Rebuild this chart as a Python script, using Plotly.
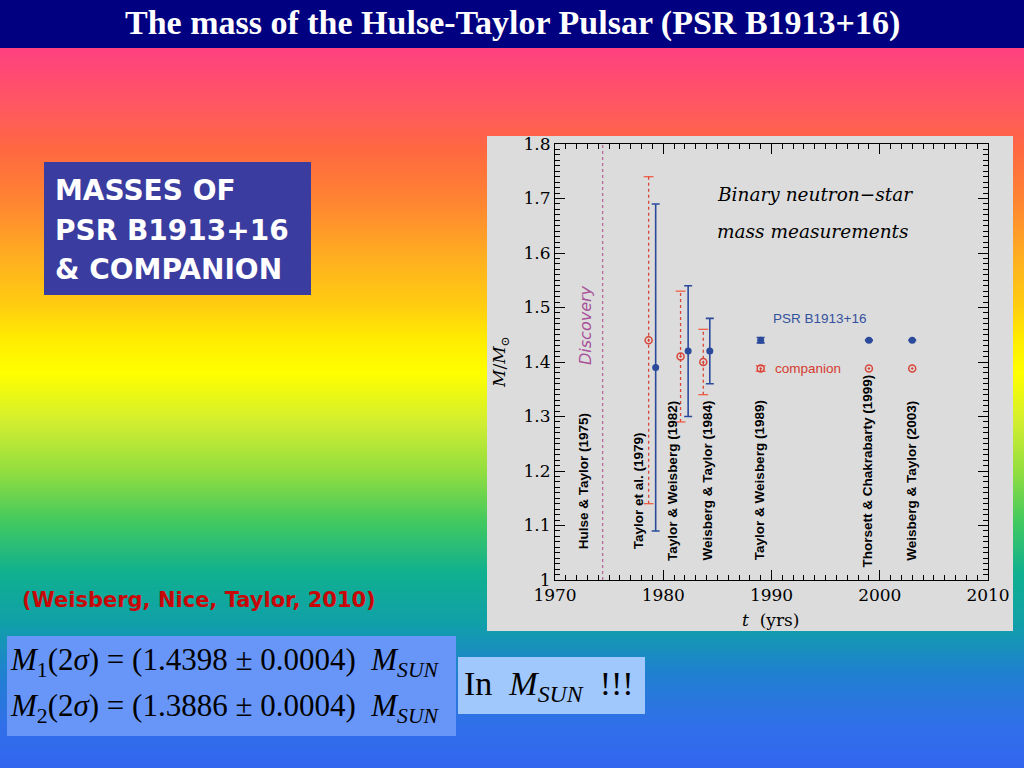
import base64
import struct
import zlib
import plotly.graph_objects as go

# ---------------- data ----------------
psr_years = [1979.3, 1982.3, 1984.3, 1989.0, 1999.0, 2003.0]
psr_mass = [1.39, 1.42, 1.42, 1.44, 1.44, 1.44]
psr_err = [0.30, 0.12, 0.06, 0.005, 0.0007, 0.0003]

comp_years = [1978.65, 1981.6, 1983.7, 1989.0, 1999.0, 2003.0]
comp_mass = [1.44, 1.41, 1.40, 1.388, 1.388, 1.388]
comp_err = [0.30, 0.12, 0.06, 0.005, 0.0, 0.0]

ref_labels = ["Hulse & Taylor (1975)", "Taylor et al. (1979)", "Taylor & Weisberg (1982)",
              "Weisberg & Taylor (1984)", "Taylor & Weisberg (1989)",
              "Thorsett & Chakrabarty (1999)", "Weisberg & Taylor (2003)"]
ref_label_x = [1972.65, 1977.67, 1980.84, 1984.13, 1988.9, 1998.9, 2002.9]
ref_label_y = [1.052, 1.052, 1.032, 1.032, 1.032, 1.020, 1.032]

discovery_year = 1974.4

x_tick_vals = [1970, 1980, 1990, 2000, 2010]
x_tick_text = ["1970", "1980", "1990", "2000", "2010"]
y_tick_vals = [1.0, 1.1, 1.2, 1.3, 1.4, 1.5, 1.6, 1.7, 1.8]
y_tick_text = ["1", "1.1", "1.2", "1.3", "1.4", "1.5", "1.6", "1.7", "1.8"]

# ---------------- helpers ----------------
W, H = 1024, 768


def px(x):
    return x / W


def py(y):
    return 1 - y / H


def gradient_png(stops, height, width=4):
    raw = bytearray()
    for r in range(height):
        yy = r + 0.5
        col = stops[-1][1]
        for i in range(len(stops) - 1):
            y0, c0 = stops[i]
            y1, c1 = stops[i + 1]
            if yy <= y1:
                t = min(max((yy - y0) / (y1 - y0), 0.0), 1.0)
                col = [round(c0[k] + (c1[k] - c0[k]) * t) for k in range(3)]
                break
        raw += b"\x00" + bytes(col) * width

    def chunk(tag, data):
        c = struct.pack(">I", len(data)) + tag + data
        return c + struct.pack(">I", zlib.crc32(tag + data) & 0xFFFFFFFF)

    png = (b"\x89PNG\r\n\x1a\n"
           + chunk(b"IHDR", struct.pack(">IIBBBBB", width, height, 8, 2, 0, 0, 0))
           + chunk(b"IDAT", zlib.compress(bytes(raw)))
           + chunk(b"IEND", b""))
    return "data:image/png;base64," + base64.b64encode(png).decode()


bg_stops = [
    (48, (255, 64, 128)), (107, (255, 88, 96)), (150, (255, 104, 64)),
    (207, (255, 136, 48)), (257, (255, 174, 32)), (307, (255, 206, 16)),
    (340, (255, 236, 0)), (373, (255, 255, 0)), (423, (208, 238, 48)),
    (473, (144, 221, 64)), (523, (64, 200, 96)), (573, (16, 176, 144)),
    (623, (16, 160, 168)), (673, (32, 128, 208)), (723, (48, 112, 232)),
    (768, (51, 102, 240)),
]

BLUE = "#2b4a9c"
RED = "#d8453a"

fig = go.Figure()

# companion dotted error bars
ex, ey, cx, cy = [], [], [], []
for x, m, e in zip(comp_years, comp_mass, comp_err):
    if e > 0:
        ex += [x, x, None]
        ey += [m - e, m + e, None]
        cx += [x, x]
        cy += [m - e, m + e]
fig.add_trace(go.Scatter(x=ex, y=ey, mode="lines",
                         line=dict(color=RED, width=1.3, dash="dot"),
                         hoverinfo="skip", showlegend=False))
fig.add_trace(go.Scatter(x=cx, y=cy, mode="markers",
                         marker=dict(symbol="line-ew-open", size=7,
                                     line=dict(color=RED, width=1.2)),
                         hoverinfo="skip", showlegend=False))
fig.add_trace(go.Scatter(x=comp_years, y=comp_mass, mode="markers",
                         marker=dict(symbol="circle-open-dot", size=7, color=RED,
                                     line=dict(color=RED, width=1.5)),
                         name="companion", showlegend=False))
fig.add_trace(go.Scatter(x=psr_years, y=psr_mass, mode="markers",
                         marker=dict(symbol="circle", size=7, color=BLUE),
                         error_y=dict(type="data", array=psr_err, visible=True,
                                      color=BLUE, thickness=1.6, width=4),
                         name="PSR B1913+16", showlegend=False))

shapes = [
    dict(type="rect", xref="paper", yref="paper", x0=0, x1=1, y0=py(48), y1=1,
         fillcolor="#000080", line=dict(width=0), layer="below"),
    dict(type="rect", xref="paper", yref="paper", x0=px(487), x1=px(1013),
         y0=py(631), y1=py(136), fillcolor="#dcdcdc", line=dict(width=0), layer="below"),
    dict(type="rect", xref="paper", yref="paper", x0=px(44), x1=px(311),
         y0=py(295), y1=py(162), fillcolor="#3a3ca0", line=dict(width=0), layer="below"),
    dict(type="rect", xref="paper", yref="paper", x0=px(7), x1=px(456),
         y0=py(736), y1=py(636), fillcolor="#6896f8", line=dict(width=0), layer="below"),
    dict(type="rect", xref="paper", yref="paper", x0=px(458), x1=px(645),
         y0=py(714), y1=py(657), fillcolor="#a0c8fc", line=dict(width=0), layer="below"),
    dict(type="line", xref="x", yref="y", x0=discovery_year, x1=discovery_year,
         y0=1.0, y1=1.8, line=dict(color="#b86a9a", width=1.3, dash="dot")),
]

ann = []


def paper_text(text, x, y, size, color, family, xanchor="center", angle=0):
    ann.append(dict(text=text, x=px(x), y=py(y), xref="paper", yref="paper",
                    xanchor=xanchor, yanchor="middle", showarrow=False, textangle=angle,
                    font=dict(size=size, color=color, family=family)))


paper_text("<b>The mass of the Hulse-Taylor Pulsar (PSR B1913+16)</b>", 512, 23, 34,
           "white", "Liberation Serif")
for txt, yy in [("MASSES OF", 190), ("PSR B1913+16", 230), ("&amp; COMPANION", 269)]:
    paper_text("<b>" + txt + "</b>", 53, yy, 28, "white", "DejaVu Sans", xanchor="left")
paper_text("<b>(Weisberg, Nice, Taylor, 2010)</b>", 20, 600, 21, "#c80808", "DejaVu Sans",
           xanchor="left")
paper_text("<i>M</i><sub>1</sub>(2<i>σ</i>) = (1.4398 ± 0.0004)  <i>M</i><sub><i>SUN</i></sub>",
           8, 662, 31, "black", "Liberation Serif", xanchor="left")
paper_text("<i>M</i><sub>2</sub>(2<i>σ</i>) = (1.3886 ± 0.0004)  <i>M</i><sub><i>SUN</i></sub>",
           8, 708, 31, "black", "Liberation Serif", xanchor="left")
paper_text("In  <i>M</i><sub><i>SUN</i></sub>  !!!", 462, 686, 34, "black",
           "Liberation Serif", xanchor="left")

# chart texts
paper_text("<i>Binary neutron−star</i>", 715, 194, 18.5, "black", "DejaVu Serif", xanchor="left")
paper_text("<i>mass measurements</i>", 715, 232, 18.5, "black", "DejaVu Serif", xanchor="left")
paper_text("<i>t</i>  (yrs)", 770, 620, 17, "black", "DejaVu Serif")
paper_text("<i>M</i>/<i>M</i><sub>⊙</sub>", 500, 362, 17, "black", "DejaVu Serif", angle=-90)
paper_text("<i>Discovery</i>", 586, 325, 16, "#a8509a", "DejaVu Sans", angle=-90)
paper_text("PSR B1913+16", 771, 318, 13.5, "#34519c", "Liberation Sans", xanchor="left")
paper_text("companion", 773, 368, 13.5, "#d63a2e", "Liberation Sans", xanchor="left")

for t, x, y in zip(ref_labels, ref_label_x, ref_label_y):
    ann.append(dict(text="<b>" + t.replace("&", "&amp;") + "</b>", x=x, y=y, xref="x", yref="y",
                    xanchor="center", yanchor="bottom", showarrow=False, textangle=-90,
                    font=dict(size=13.5, color="black", family="Liberation Sans")))

axis_common = dict(ticks="inside", ticklen=10, tickwidth=1, tickcolor="black",
                   showline=True, linecolor="black", linewidth=1, mirror="ticks",
                   showgrid=False, zeroline=False, automargin=False,
                   tickfont=dict(family="DejaVu Serif", size=17, color="black"))

fig.update_layout(
    width=W, height=H, autosize=False,
    margin=dict(l=0, r=0, t=0, b=0, pad=0, autoexpand=False),
    paper_bgcolor="#3366f0",
    plot_bgcolor="#dcdcdc",
    showlegend=False,
    xaxis=dict(domain=[px(555), px(988)], range=[1970, 2010], tickmode="array",
               tickvals=x_tick_vals, ticktext=x_tick_text,
               minor=dict(dtick=1, tick0=1970, ticks="inside", ticklen=5, tickcolor="black",
                          showgrid=False),
               **axis_common),
    yaxis=dict(domain=[py(580), py(144)], range=[1.0, 1.8], tickmode="array",
               tickvals=y_tick_vals, ticktext=y_tick_text,
               minor=dict(dtick=0.01, tick0=1.0, ticks="inside", ticklen=5, tickcolor="black",
                          showgrid=False),
               **axis_common),
    images=[dict(source=gradient_png(bg_stops, H), xref="paper", yref="paper", x=0, y=1,
                 sizex=1, sizey=1, xanchor="left", yanchor="top", sizing="stretch",
                 layer="below")],
    shapes=shapes,
    annotations=ann,
)

fig.write_html("out.html", config={"displayModeBar": False},
               post_script="document.body.style.margin='0';document.body.style.overflow='hidden';")
